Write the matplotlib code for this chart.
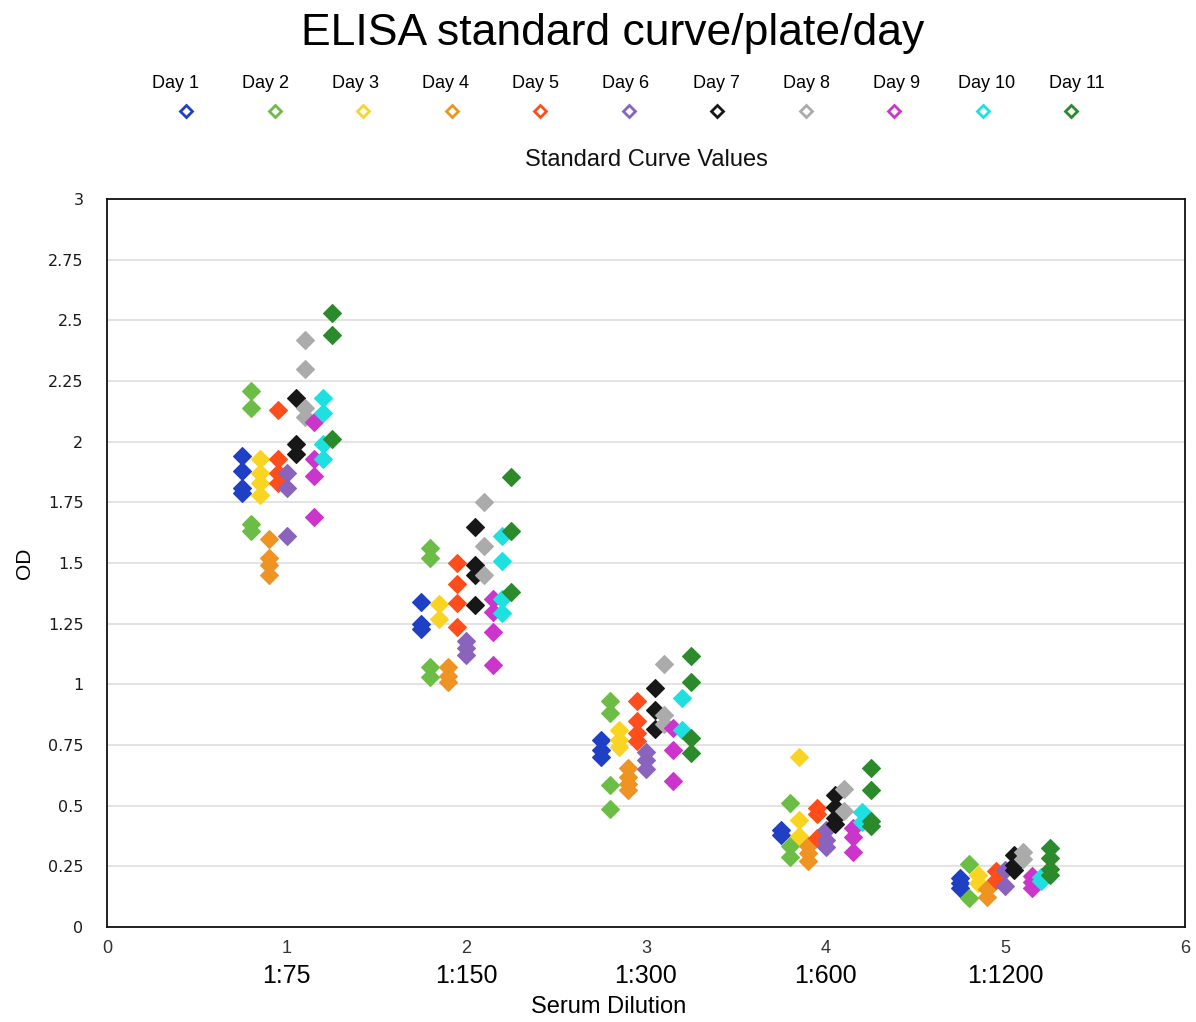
import matplotlib
matplotlib.use("Agg")
import matplotlib.pyplot as plt
from matplotlib.lines import Line2D

# Serum dilutions on the x axis
dilution_pos = [1, 2, 3, 4, 5]
dilution_labels = ["1:75", "1:150", "1:300", "1:600", "1:1200"]

day_labels = ["Day 1", "Day 2", "Day 3", "Day 4", "Day 5", "Day 6",
              "Day 7", "Day 8", "Day 9", "Day 10", "Day 11"]
day_colors = ["#1f3fc4", "#6cbd45", "#f9d423", "#ef9322", "#ff4d1c",
              "#8a63bd", "#171717", "#ababab", "#cc35cc", "#1ee0e0", "#2b8a2b"]

# OD readings per plate: one list per dilution (1:75 ... 1:1200)
day1 = [[1.94, 1.88, 1.81, 1.79], [1.34, 1.25, 1.23], [0.77, 0.73, 0.70],
        [0.40, 0.38], [0.20, 0.18, 0.16]]
day2 = [[2.21, 2.14, 1.66, 1.63], [1.56, 1.52, 1.07, 1.03], [0.93, 0.88, 0.585, 0.485],
        [0.51, 0.335, 0.29], [0.26, 0.12]]
day3 = [[1.93, 1.87, 1.83, 1.78], [1.33, 1.27], [0.81, 0.77, 0.74],
        [0.70, 0.44, 0.375], [0.215, 0.18]]
day4 = [[1.60, 1.52, 1.49, 1.45], [1.07, 1.035, 1.01], [0.655, 0.62, 0.59, 0.565],
        [0.335, 0.305, 0.27], [0.155, 0.125]]
day5 = [[2.13, 1.93, 1.87, 1.83], [1.50, 1.415, 1.335, 1.235], [0.93, 0.85, 0.80, 0.765],
        [0.49, 0.465, 0.365], [0.23, 0.195]]
day6 = [[1.87, 1.81, 1.61], [1.18, 1.15, 1.12], [0.72, 0.69, 0.65],
        [0.40, 0.36, 0.33], [0.235, 0.168]]
day7 = [[2.18, 1.99, 1.95], [1.65, 1.49, 1.45, 1.325], [0.985, 0.895, 0.815],
        [0.545, 0.495, 0.45, 0.425], [0.295, 0.255, 0.235]]
day8 = [[2.42, 2.30, 2.14, 2.10], [1.75, 1.57, 1.45], [1.085, 0.875, 0.835],
        [0.57, 0.478], [0.31, 0.28]]
day9 = [[2.08, 1.93, 1.86, 1.69], [1.35, 1.30, 1.215, 1.08], [0.82, 0.73, 0.60],
        [0.41, 0.37, 0.31], [0.21, 0.185, 0.16]]
day10 = [[2.18, 2.12, 1.99, 1.93], [1.61, 1.51, 1.35, 1.295], [0.945, 0.81],
         [0.475, 0.432], [0.205, 0.19]]
day11 = [[2.53, 2.44, 2.01], [1.855, 1.63, 1.38], [1.115, 1.01, 0.78, 0.715],
         [0.655, 0.565, 0.435, 0.415], [0.325, 0.283, 0.24, 0.215]]
days = [day1, day2, day3, day4, day5, day6, day7, day8, day9, day10, day11]

# horizontal spread of the days around each dilution
day_offsets = [-0.25, -0.20, -0.15, -0.10, -0.05, 0.0, 0.05, 0.10, 0.15, 0.20, 0.25]

sans = "Liberation Sans"
W, H = 1196, 1022

fig = plt.figure(figsize=(W / 100, H / 100), dpi=100)
ax = fig.add_axes([107 / W, 1 - 927 / H, (1185 - 107) / W, (927 - 199) / H])

for readings, color, off in zip(days, day_colors, day_offsets):
    for pos, vals in zip(dilution_pos, readings):
        ax.plot([pos + off] * len(vals), vals, linestyle="none", marker="D",
                markersize=8.8, color=color, markeredgecolor=color,
                markeredgewidth=0.8, zorder=3)

ax.set_xlim(0, 6)
ax.set_ylim(0, 3)
ax.set_yticks([i * 0.25 for i in range(13)])
ax.set_yticklabels(["0", "0.25", "0.5", "0.75", "1", "1.25", "1.5", "1.75",
                    "2", "2.25", "2.5", "2.75", "3"])
ax.set_xticks(range(7))
ax.tick_params(axis="both", length=0)
ax.tick_params(axis="y", labelsize=11.5, pad=17, labelcolor="#1a1a1a")
ax.tick_params(axis="x", labelsize=13, pad=9, labelcolor="#333333")
for lab in ax.get_xticklabels():
    lab.set_family(sans)
ax.yaxis.grid(True, color="#e3e3e3", linewidth=1.4, zorder=0)
ax.set_axisbelow(True)
for sp in ax.spines.values():
    sp.set_linewidth(1.3)
    sp.set_color("#111111")

# dilution names under the numeric ticks
for pos, lab in zip(dilution_pos, dilution_labels):
    ax.text(pos, -0.2, lab, transform=ax.transData,
            ha="center", va="center", fontsize=18, family=sans)

fig.text(609 / W, 1 - 1007 / H, "Serum Dilution", ha="center", va="center",
         fontsize=17, family=sans)
ax.set_ylabel("OD", fontsize=15, family=sans, labelpad=10)

fig.text(613 / W, 1 - 34 / H, "ELISA standard curve/plate/day", ha="center", va="center",
         fontsize=32, family=sans)
fig.text(646 / W, 1 - 160 / H, "Standard Curve Values", ha="center", va="center",
         fontsize=17, family=sans, color="#111111")

# legend: day names above hollow diamonds
label_x0, label_dx = 175 / W, 90.2 / W
mark_x0, mark_dx = 186 / W, 88.5 / W
for i, (lab, color) in enumerate(zip(day_labels, day_colors)):
    fig.text(label_x0 + i * label_dx, 1 - 83 / H, lab, ha="center", va="center",
             fontsize=13, family=sans)
    fig.add_artist(Line2D([mark_x0 + i * mark_dx], [1 - 111 / H], transform=fig.transFigure,
                          marker="D", markersize=6.5, markerfacecolor="white",
                          markeredgecolor=color, markeredgewidth=2, linestyle="none"))

fig.savefig("out.png", dpi=100)
